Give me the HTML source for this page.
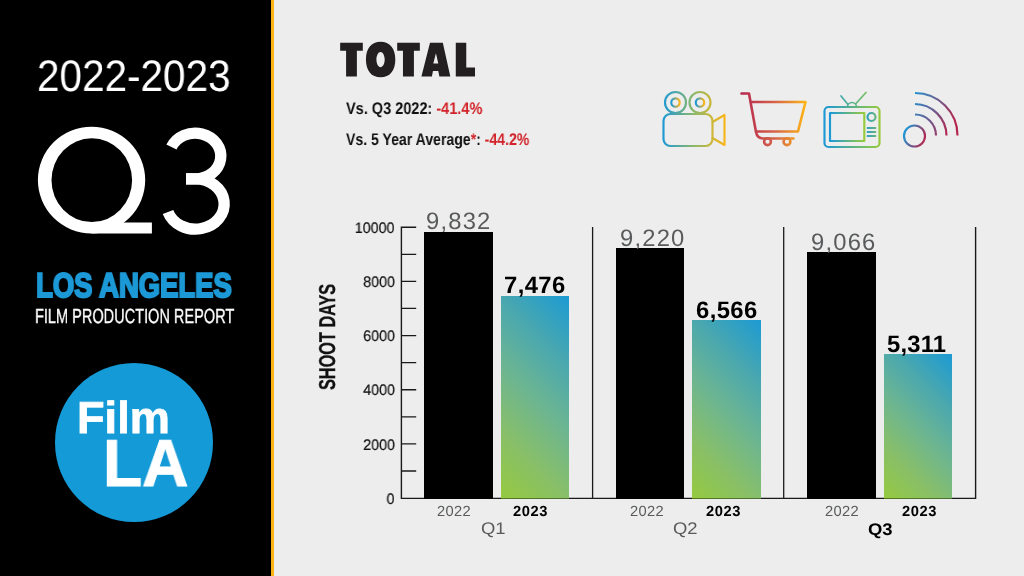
<!DOCTYPE html>
<html>
<head>
<meta charset="utf-8">
<title>Q3 Los Angeles Film Production Report</title>
<style>
html,body{margin:0;padding:0;}
body{width:1024px;height:576px;overflow:hidden;background:#ecedec;font-family:"Liberation Sans",sans-serif;position:relative;}
#left{position:absolute;left:0;top:0;width:271px;height:576px;background:#000;}
#stripe{position:absolute;left:271px;top:0;width:3px;height:576px;background:#fdb515;}
.t{text-rendering:geometricPrecision;will-change:transform;position:absolute;white-space:nowrap;line-height:1;transform-origin:0 0;margin:0;padding:0;}
#years{left:36.7px;top:55.4px;font-size:44.2px;color:#fff;transform:scaleX(0.916);}
#la{left:35.8px;top:269px;font-size:34.26px;font-weight:bold;color:#1c99d6;transform:scaleX(0.8017);-webkit-text-stroke:2.2px #1c99d6;}
#fpr{left:34.6px;top:307px;font-size:20.4px;color:#fff;-webkit-text-stroke:0.35px #fff;transform:scaleX(0.713);}
#logo{position:absolute;left:55.2px;top:363.2px;width:157.8px;height:158.4px;border-radius:50%;background:#149ad7;}
#film{left:77.3px;top:395.5px;font-size:44.8px;transform:scaleX(1.008);font-weight:bold;color:#fff;-webkit-text-stroke:0.8px #fff;}
#lala{left:102.6px;top:430.9px;font-size:66.5px;font-weight:bold;color:#fff;transform:scaleX(0.965);-webkit-text-stroke:1px #fff;}
.stat{font-size:16.9px;font-weight:bold;color:#111;transform:scaleX(0.82);}
.red{color:#d2232a;}
#s1{left:346px;top:100.5px;transform:scaleX(0.859);}
#s2{left:346px;top:132.2px;transform:scaleX(0.833);}
.bar{position:absolute;background:#000;}
.g{background:linear-gradient(to top,rgba(30,50,0,.55) 0,rgba(30,50,0,.55) 1.1px,rgba(0,0,0,0) 1.1px),linear-gradient(45deg,#95ca3f 0%,#88bf68 25%,#6cb592 50%,#48a7b0 75%,#1c9ad4 100%);}
.ln{position:absolute;background:#1a1a1a;}
.yl{font-size:15.25px;color:#111;transform-origin:100% 0;transform:scaleX(0.935);text-align:right;-webkit-text-stroke:0.2px #111;}
.v22{font-size:23.8px;color:#595a5c;letter-spacing:1.2px;}
.v23{font-size:23.8px;color:#000;font-weight:bold;letter-spacing:0.4px;}
.x22{font-size:14.7px;color:#595a5c;letter-spacing:0.3px;}
.x23{font-size:14.7px;color:#000;font-weight:bold;letter-spacing:0.6px;}
.q{font-size:16.8px;color:#595a5c;transform:scaleX(1.1);}
#shoot{left:315.5px;top:389.8px;font-size:23px;font-weight:bold;color:#111;transform:rotate(-90deg) scaleX(0.708);-webkit-text-stroke:0.3px #111;}
</style>
</head>
<body>
<div id="left"></div>
<div id="stripe"></div>

<div id="years" class="t">2022-2023</div>

<svg id="q3" style="position:absolute;left:30px;top:115px" width="210" height="130" viewBox="30 115 210 130">
  <path fill="#fff" fill-rule="evenodd" d="M37.9 180.100A53.650 53.400 0 1 1 145.200 180.100A53.650 53.400 0 1 1 37.900 180.100ZM51.500 180.200A40.300 41.900 0 1 0 132.100 180.200A40.300 41.900 0 1 0 51.500 180.200Z"/>
  <path fill="#fff" d="M91.500 222.500H151.900V233.500H91.500Z"/>
  <g fill="none" stroke="#fff" stroke-width="11.300">
    <path d="M171.470 147A25.700 22.900 0 1 1 195.100 178.900H186"/>
    <path d="M186 178.900H195.350A28.850 25.100 0 1 1 168 212"/>
  </g>
</svg>

<div id="la" class="t">LOS ANGELES</div>
<div id="fpr" class="t">FILM PRODUCTION REPORT</div>

<div id="logo"></div>
<div id="film" class="t">Film</div>
<div id="lala" class="t">LA</div>

<!-- TOTAL heading -->
<svg id="total" style="position:absolute;left:330px;top:30px" width="160" height="60" viewBox="0 0 1024 384">
  <g fill="#231f20">
    <path d="M65 82H210V133H172V297H103V133H65Z"/>
    <path fill-rule="evenodd" d="M324 75C383.2 75 418 117.2 418 189S383.2 303 324 303S230 260.8 230 189S264.8 75 324 75ZM323.500 140C309 140 297 162 297 189S309 238 323.500 238S350 216 350 189S338 140 323.500 140Z"/>
    <path d="M430 82H575V133H537V297H467V133H430Z"/>
    <path fill-rule="evenodd" d="M640 82H722L770 297H700L693 262H659L652 297H585ZM678 148L661 215H693Z"/>
    <path d="M805 82H872V240H928V297H805Z"/>
  </g>
</svg>

<div id="s1" class="t stat">Vs. Q3 2022: <span class="red">-41.4%</span></div>
<div id="s2" class="t stat">Vs. 5 Year Average<span class="red">*</span>: <span class="red">-44.2%</span></div>

<!-- icons -->
<svg id="icons" style="position:absolute;left:640px;top:70px" width="360" height="100" viewBox="640 70 360 100">
  <defs>
    <linearGradient id="gcam" gradientUnits="userSpaceOnUse" x1="662" y1="0" x2="726" y2="0">
      <stop offset="0" stop-color="#1b98d8"/><stop offset="0.5" stop-color="#8db86a"/><stop offset="1" stop-color="#fdb515"/>
    </linearGradient>
    <linearGradient id="gcart" gradientUnits="userSpaceOnUse" x1="741" y1="0" x2="806" y2="0">
      <stop offset="0" stop-color="#b5264f"/><stop offset="0.5" stop-color="#d4604a"/><stop offset="1" stop-color="#fdb515"/>
    </linearGradient>
    <linearGradient id="gtv" gradientUnits="userSpaceOnUse" x1="824" y1="0" x2="880" y2="0">
      <stop offset="0" stop-color="#1b98d8"/><stop offset="1" stop-color="#97ca3c"/>
    </linearGradient>
    <linearGradient id="gbo" x1="0" y1="0" x2="1" y2="0">
      <stop offset="0" stop-color="#1b98d8"/><stop offset="1" stop-color="#fdb515"/>
    </linearGradient>
    <linearGradient id="gbc" x1="0" y1="0.3" x2="1" y2="0.7">
      <stop offset="0" stop-color="#1b98d8"/><stop offset="1" stop-color="#b5264f"/>
    </linearGradient>
    <linearGradient id="gbg" x1="0" y1="0" x2="1" y2="0">
      <stop offset="0" stop-color="#1b98d8"/><stop offset="1" stop-color="#97ca3c"/>
    </linearGradient>
    <linearGradient id="gtv2" gradientUnits="userSpaceOnUse" x1="864" y1="0" x2="884" y2="0">
      <stop offset="0" stop-color="#1b98d8"/><stop offset="1" stop-color="#97ca3c"/>
    </linearGradient>
    <linearGradient id="gwifi" gradientUnits="userSpaceOnUse" x1="905" y1="110" x2="950" y2="130">
      <stop offset="0" stop-color="#1b98d8"/><stop offset="1" stop-color="#b5264f"/>
    </linearGradient>
  </defs>
  <g fill="none" stroke-width="2.150" stroke-linecap="round" stroke-linejoin="round">
    <g stroke="url(#gcam)">
      <circle cx="675.500" cy="102.500" r="10.500"/>
      <circle cx="675.500" cy="102.500" r="4.200" stroke="url(#gbo)"/>
      <circle cx="700" cy="102.500" r="10.500"/>
      <circle cx="700" cy="102.500" r="4.200" stroke="url(#gbo)"/>
      <rect x="663.500" y="114" width="49" height="32" rx="7"/>
      <path d="M712.500 122L724.500 115V145L712.500 138"/>
    </g>
    <g stroke="url(#gcart)" stroke-width="2.600">
      <path d="M741.500 93.500H749L756 132C757 137 759.500 138.500 763 138.500H793.500"/>
      <path d="M751 102H805.500L798 131.500H756.500"/>
      <circle cx="767.500" cy="141.700" r="3.400"/>
      <circle cx="787" cy="141.700" r="3.400"/>
    </g>
    <g stroke="url(#gtv)">
      <rect x="824.500" y="107" width="55" height="40" rx="4"/>
      <rect x="830" y="113" width="34.300" height="28" stroke="url(#gbg)"/>
      <circle cx="871.500" cy="117" r="4" stroke="url(#gtv2)"/>
      <path d="M867.500 128H875.500M867.500 132H875.500M867.500 136H875.500" stroke="url(#gtv2)" stroke-width="1.800"/>
      <path d="M841 96L848 104.500M866 92.500L856 103.500M847.500 107A4.500 4.500 0 0 1 856.500 107" stroke-width="1.700"/>
    </g>
    <g stroke="url(#gwifi)" stroke-linecap="butt">
      <circle cx="914.500" cy="136" r="10.500" stroke="url(#gbc)"/>
      <path d="M915 114.500A21 21 0 0 1 936 135.500"/>
      <path d="M915 104A32 32 0 0 1 946.500 135.500"/>
      <path d="M915 93A42.500 42.500 0 0 1 957.500 135.500"/>
    </g>
  </g>
</svg>

<!-- chart -->
<div id="shoot" class="t">SHOOT DAYS</div>

<div id="chart">
  <!-- axis -->
  <svg style="position:absolute;left:0;top:0" width="1024" height="576" viewBox="0 0 1024 576">
   <g fill="none" stroke="#1a1a1a" stroke-width="1.300">
    <path d="M416.200 227.20H401.400V498.35H975.600V227.10" stroke-width="1.400"/>
    <path d="M592.600 227.10V498.35M783.700 227.10V498.35"/>
    <path d="M401.400 254.29H416.200M401.400 281.38H416.200M401.400 308.47H416.200M401.400 335.56H416.200M401.400 362.65H416.200M401.400 389.74H416.200M401.400 416.83H416.200M401.400 443.92H416.200M401.400 471.01H416.200"/>
   </g>
  </svg>
  <!-- y labels -->
  <div id="yl1" class="t yl" style="right:629.4px;top:220.75px">10000</div>
  <div id="yl2" class="t yl" style="right:629.4px;top:274.95px">8000</div>
  <div id="yl3" class="t yl" style="right:629.4px;top:329.25px">6000</div>
  <div id="yl4" class="t yl" style="right:629.4px;top:383.45px">4000</div>
  <div id="yl5" class="t yl" style="right:629.4px;top:437.75px">2000</div>
  <div id="yl6" class="t yl" style="right:629.4px;top:491.95px">0</div>

  <!-- bars -->
  <div class="bar" style="left:424.2px;top:231.8px;width:68.7px;height:267.0px"></div>
  <div class="bar g" style="left:500.9px;top:295.8px;width:68.6px;height:203.0px"></div>
  <div class="bar" style="left:615.8px;top:248.4px;width:68.5px;height:250.4px"></div>
  <div class="bar g" style="left:692.3px;top:320.3px;width:68.7px;height:178.5px"></div>
  <div class="bar" style="left:807.1px;top:252.4px;width:68.8px;height:246.4px"></div>
  <div class="bar g" style="left:883.5px;top:354.4px;width:68.8px;height:144.4px"></div>

  <!-- values -->
  <div id="v1" class="t v22" style="left:425.8px;top:210.4px">9,832</div>
  <div id="v2" class="t v23" style="left:504.4px;top:274.4px">7,476</div>
  <div id="v3" class="t v22" style="left:619.6px;top:226.5px">9,220</div>
  <div id="v4" class="t v23" style="left:695.6px;top:298.7px">6,566</div>
  <div id="v5" class="t v22" style="left:811.2px;top:231.1px">9,066</div>
  <div id="v6" class="t v23" style="left:887px;top:332.6px;letter-spacing:0.2px">5,311</div>

  <!-- x labels -->
  <div id="x1" class="t x22" style="left:437.2px;top:504.6px">2022</div>
  <div id="x2" class="t x23" style="left:513.4px;top:504.6px">2023</div>
  <div id="ql1" class="t q" style="left:480.6px;top:521.3px">Q1</div>
  <div id="x3" class="t x22" style="left:629.9px;top:504.6px">2022</div>
  <div id="x4" class="t x23" style="left:706.3px;top:504.6px">2023</div>
  <div id="ql2" class="t q" style="left:672.8px;top:521.3px">Q2</div>
  <div id="x5" class="t x22" style="left:824.8px;top:504.6px">2022</div>
  <div id="x6" class="t x23" style="left:901.5px;top:504.6px">2023</div>
  <div id="ql3" class="t q" style="left:868px;top:521.5px;color:#000;font-weight:bold">Q3</div>
</div>
</body>
</html>
